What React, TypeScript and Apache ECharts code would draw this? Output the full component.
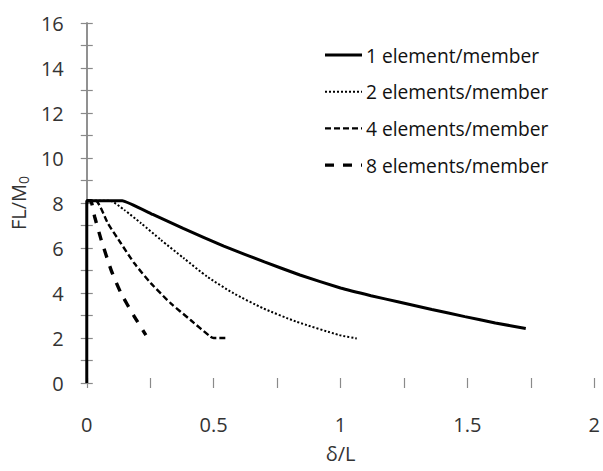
import React, { useEffect, useRef } from "react";
import * as echarts from "echarts";

const seriesNames = [
  "1 element/member",
  "2 elements/member",
  "4 elements/member",
  "8 elements/member",
];

const oneElement: [number, number][] = [
  [0, 0], [0, 8.1], [0.14, 8.1], [0.26, 7.49], [0.38, 6.87], [0.54, 6.08],
  [0.7, 5.38], [0.84, 4.8], [1.0, 4.22], [1.12, 3.88], [1.23, 3.6],
  [1.36, 3.27], [1.49, 2.95], [1.61, 2.67], [1.73, 2.42],
];
const twoElements: [number, number][] = [
  [0, 8.1], [0.09, 8.1], [0.148, 7.69], [0.214, 7.1], [0.292, 6.36],
  [0.383, 5.54], [0.474, 4.73], [0.578, 3.99], [0.695, 3.32], [0.825, 2.73],
  [0.995, 2.13], [1.064, 1.98],
];
const fourElements: [number, number][] = [
  [0, 8.1], [0.035, 8.1], [0.083, 7.1], [0.135, 6.2], [0.1875, 5.32],
  [0.253, 4.43], [0.331, 3.54], [0.409, 2.8], [0.487, 2.06], [0.5, 2.0],
  [0.546, 2.0],
];
const eightElements: [number, number][] = [
  [0, 8.1], [0.015, 8.1], [0.031, 7.39], [0.057, 6.36], [0.096, 5.02],
  [0.135, 3.99], [0.1875, 2.95], [0.233, 2.13],
];

const lineWidths = [3, 2, 2.4, 3.4];
const lineTypes: any[] = ["solid", [2, 2], [6, 3], [9, 9]];

const TEXT = "#333";
const AXIS = "#8a8a8a";
const FONT = "Open Sans";
const FS = 20;

export default function App() {
  const ref = useRef<HTMLDivElement>(null);
  useEffect(() => {
    if (!ref.current) return;
    const chart = echarts.init(ref.current, undefined, { renderer: "svg" });
    const tickStyle = { color: AXIS, width: 1.2 };
    const xBase = {
      type: "value" as const,
      min: 0,
      max: 2,
      interval: 0.5,
      splitLine: { show: false },
      axisLine: { show: false },
      axisTick: { show: true, inside: true, length: 5, lineStyle: tickStyle },
      minorTick: { show: true, splitNumber: 2, length: 5, lineStyle: tickStyle },
      minorSplitLine: { show: false },
    };
    const yBase = {
      type: "value" as const,
      min: 0,
      max: 16,
      interval: 2,
      splitLine: { show: false },
      axisLine: { show: true, lineStyle: { color: AXIS, width: 1.5 } },
      axisTick: { show: true, inside: true, length: 6, lineStyle: tickStyle },
      minorTick: { show: true, splitNumber: 2, length: 6, lineStyle: tickStyle },
      minorSplitLine: { show: false },
    };
    const datasets = [oneElement, twoElements, fourElements, eightElements];
    const legendGraphics: any[] = [];
    seriesNames.forEach((name, i) => {
      const cy = 55 + i * 36.7;
      legendGraphics.push({
        type: "line",
        shape: { x1: 325, y1: cy, x2: 362, y2: cy },
        style: { stroke: "#000", lineWidth: lineWidths[i], lineDash: lineTypes[i] === "solid" ? null : lineTypes[i] },
      });
      legendGraphics.push({
        type: "text",
        x: 366,
        y: cy,
        style: { text: name, fill: "#111", font: `19.2px "${FONT}"`, textVerticalAlign: "middle", verticalAlign: "middle" },
      });
    });
    chart.setOption({
      animation: false,
      backgroundColor: "#fff",
      grid: { left: 86, right: 6, top: 23, bottom: 88, containLabel: false },
      graphic: legendGraphics,
      xAxis: [
        {
          ...xBase,
          position: "bottom",
          name: "δ/L",
          nameLocation: "middle",
          nameGap: 60,
          nameTextStyle: { color: TEXT, fontSize: FS, fontFamily: FONT },
          axisLabel: { color: TEXT, fontSize: FS, fontFamily: FONT, margin: 31 },
        },
        {
          ...xBase,
          position: "top",
          axisLabel: { show: false },
        },
      ],
      yAxis: [
        {
          ...yBase,
          position: "left",
          name: "{a|FL/M}{b|0}",
          nameLocation: "middle",
          nameRotate: 90,
          nameGap: 56,
          nameTextStyle: {
            color: TEXT,
            fontFamily: FONT,
            rich: {
              a: { fontSize: FS, color: TEXT, fontFamily: FONT },
              b: { fontSize: 14, color: TEXT, fontFamily: FONT, verticalAlign: "bottom", padding: [10, 0, 0, 0] },
            },
          },
          axisLabel: { color: TEXT, fontSize: FS, fontFamily: FONT, margin: 23 },
        },
        {
          ...yBase,
          position: "right",
          axisLabel: { show: false },
        },
      ],
      series: datasets.map((data, i) => ({
        name: seriesNames[i],
        type: "line",
        data,
        symbol: "none",
        showSymbol: false,
        smooth: i === 0 ? 0.1 : 0.2,
        xAxisIndex: 0,
        yAxisIndex: 0,
        lineStyle: { color: "#000", width: lineWidths[i], type: lineTypes[i] },
        itemStyle: { color: "#000" },
      })),
    });
    return () => chart.dispose();
  }, []);
  return <div ref={ref} style={{ width: 603, height: 471, position: "absolute", left: 0, top: 0 }} />;
}
